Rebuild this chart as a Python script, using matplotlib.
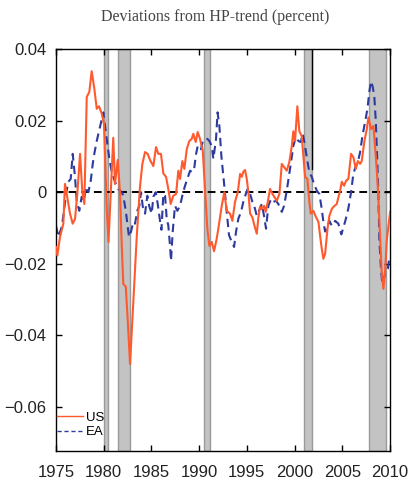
import matplotlib
matplotlib.use('Agg')
import matplotlib.pyplot as plt
from matplotlib.lines import Line2D

# US deviation from HP trend
us_years = [1975.0, 1975.14, 1975.42, 1975.77, 1975.94, 1976.47, 1976.75, 1976.99, 1977.23, 1977.52,
            1977.76, 1977.97, 1978.22, 1978.49, 1978.74, 1979.01, 1979.27, 1979.51, 1979.79, 1980.03,
            1980.31, 1980.5, 1981.0, 1981.18, 1981.47, 1981.71, 1981.89, 1982.05, 1982.31, 1982.52,
            1982.76, 1983.1, 1983.46, 1983.8, 1984.05, 1984.33, 1984.61, 1984.85, 1985.2, 1985.48,
            1985.72, 1986.0, 1986.25, 1986.53, 1986.77, 1987.02, 1987.29, 1987.58, 1987.82, 1988.0,
            1988.24, 1988.45, 1988.7, 1988.97, 1989.22, 1989.39, 1989.64, 1989.85, 1990.09, 1990.38,
            1990.62, 1990.86, 1991.07, 1991.32, 1991.56, 1991.84, 1992.01, 1992.37, 1992.64, 1992.89,
            1993.24, 1993.48, 1993.76, 1994.05, 1994.29, 1994.47, 1994.63, 1994.81, 1994.99, 1995.16,
            1995.34, 1995.58, 1995.79, 1996.04, 1996.21, 1996.38, 1996.56, 1996.8, 1996.98, 1997.19,
            1997.43, 1997.69, 1998.13, 1998.41, 1998.66, 1998.9, 1999.18, 1999.45, 1999.71, 1999.87,
            2000.05, 2000.29, 2000.5, 2000.75, 2000.92, 2001.1, 2001.34, 2001.55, 2001.7, 2001.97,
            2002.25, 2002.5, 2002.67, 2002.85, 2003.02, 2003.2, 2003.46, 2003.65, 2003.9, 2004.07,
            2004.42, 2004.77, 2004.95, 2005.19, 2005.4, 2005.64, 2005.92, 2006.16, 2006.42, 2006.63,
            2006.87, 2007.04, 2007.32, 2007.57, 2007.74, 2008.02, 2008.26, 2008.44, 2008.62, 2008.78,
            2008.96, 2009.14, 2009.31, 2009.49, 2009.66, 2009.83, 2010.01]
us_vals = [-0.0153, -0.0177, -0.0125, -0.0088, 0.0023, -0.006, -0.0088, -0.0075, -0.0005, 0.0107,
           0.0, -0.0033, 0.0266, 0.028, 0.0338, 0.029, 0.0233, 0.024, 0.022, 0.019,
           -0.004, -0.0139, 0.0152, 0.0023, 0.009, -0.0005, -0.015, -0.0256, -0.0264, -0.036,
           -0.048, -0.031, -0.0125, 0.0015, 0.0079, 0.0112, 0.0107, 0.009, 0.0073, 0.0126,
           0.0107, 0.0107, 0.0052, 0.0043, 0.0009, -0.0033, -0.001, -0.0005, 0.006, 0.0037,
           0.0087, 0.0065, 0.012, 0.0143, 0.0149, 0.0163, 0.014, 0.0168, 0.0149, 0.0115,
           0.0009, -0.0102, -0.015, -0.0139, -0.0165, -0.013, -0.0102, -0.0038, 0.0, -0.0052,
           -0.006, -0.008, -0.0027, 0.0, 0.0051, 0.0043, 0.0057, 0.0062, 0.0037, 0.0,
           -0.006, -0.007, -0.0093, -0.0116, -0.007, -0.004, -0.0047, -0.0038, -0.0055, -0.0027,
           0.0009, -0.0005, -0.0024, -0.0005, 0.0079, 0.007, 0.006, 0.0084, 0.0129, 0.017,
           0.0143, 0.024, 0.017, 0.0157, 0.0101, 0.0043, 0.0037, -0.0027, -0.006, -0.0052,
           -0.007, -0.0083, -0.0121, -0.0158, -0.0186, -0.0172, -0.01, -0.0066, -0.0047, -0.0041,
           -0.0033, 0.0004, 0.0029, 0.0018, 0.0032, 0.0037, 0.0107, 0.0098, 0.0065, 0.0087,
           0.0079, 0.0087, 0.0143, 0.0176, 0.0209, 0.0176, 0.0185, 0.0126, 0.006, -0.0013,
           -0.0125, -0.0228, -0.027, -0.022, -0.0136, -0.0097, -0.0055]

# Euro area deviation from HP trend
ea_years = [1975.0, 1975.24, 1975.6, 1975.84, 1976.05, 1976.29, 1976.54, 1976.75, 1976.99, 1977.17,
            1977.44, 1977.69, 1977.94, 1978.14, 1978.39, 1978.64, 1978.85, 1979.01, 1979.27, 1979.51,
            1979.79, 1979.96, 1980.31, 1980.59, 1980.84, 1981.18, 1981.53, 1981.89, 1982.05, 1982.31,
            1982.52, 1982.65, 1982.86, 1983.1, 1983.28, 1983.52, 1983.73, 1983.91, 1984.09, 1984.33,
            1984.57, 1984.78, 1985.03, 1985.2, 1985.45, 1985.66, 1985.9, 1986.05, 1986.25, 1986.43,
            1986.6, 1986.77, 1986.95, 1987.05, 1987.23, 1987.47, 1987.72, 1988.0, 1988.28, 1988.52,
            1988.76, 1989.05, 1989.29, 1989.5, 1989.68, 1989.85, 1990.02, 1990.2, 1990.38, 1990.62,
            1990.86, 1991.07, 1991.32, 1991.49, 1991.77, 1991.93, 1992.12, 1992.33, 1992.61, 1992.89,
            1993.13, 1993.42, 1993.66, 1993.87, 1994.11, 1994.39, 1994.63, 1994.89, 1995.09, 1995.34,
            1995.58, 1995.79, 1996.04, 1996.28, 1996.56, 1996.8, 1997.01, 1997.25, 1997.54, 1997.78,
            1998.06, 1998.3, 1998.66, 1998.9, 1999.18, 1999.42, 1999.63, 1999.87, 2000.13, 2000.4,
            2000.65, 2000.86, 2001.1, 2001.34, 2001.55, 2001.8, 2002.04, 2002.33, 2002.6, 2002.85,
            2003.02, 2003.2, 2003.44, 2003.65, 2003.9, 2004.25, 2004.59, 2004.9, 2005.32, 2005.64,
            2005.92, 2006.16, 2006.42, 2006.63, 2006.87, 2007.11, 2007.39, 2007.63, 2007.84, 2008.02,
            2008.2, 2008.36, 2008.51, 2008.68, 2008.78, 2008.89, 2009.07, 2009.2, 2009.41, 2009.59,
            2009.77, 2009.9]
ea_vals = [-0.0094, -0.0125, -0.0097, -0.0052, -0.0005, 0.0029, 0.0037, 0.0107, 0.0043, -0.0024,
           -0.0052, -0.0013, -0.0024, 0.0015, 0.0, 0.0032, 0.0079, 0.0107, 0.0143, 0.0171,
           0.0204, 0.0223, 0.0149, 0.0093, 0.0057, 0.0029, 0.0009, 0.0, -0.001, -0.0052,
           -0.0097, -0.0125, -0.011, -0.0083, -0.0088, -0.0052, -0.0038, 0.0, -0.004, -0.006,
           -0.001, -0.004, -0.006, -0.0013, 0.0, -0.0033, -0.008, -0.0105, -0.0005, -0.001,
           -0.0074, -0.0093, -0.015, -0.0192, -0.011, -0.0038, -0.0052, -0.0038, -0.0005, 0.0018,
           0.0037, 0.006, 0.0056, 0.007, 0.0107, 0.0129, 0.0129, 0.012, 0.0143, 0.0149,
           0.0149, 0.0143, 0.0129, 0.0093, 0.0149, 0.0223, 0.0185, 0.0101, 0.0025, -0.0055,
           -0.012, -0.0139, -0.0153, -0.011, -0.0074, -0.0055, -0.0027, -0.0005, 0.0009, -0.0005,
           -0.0027, -0.004, -0.0066, -0.0052, -0.0033, -0.0066, -0.0102, -0.0038, -0.0019, -0.0027,
           -0.0024, -0.0033, -0.0055, -0.0038, 0.0004, 0.0046, 0.0084, 0.0129, 0.0154, 0.0143,
           0.014, 0.0163, 0.0129, 0.0087, 0.0056, 0.0043, 0.0023, 0.0004, -0.0005, -0.0047,
           -0.0083, -0.011, -0.0097, -0.008, -0.0094, -0.008, -0.0088, -0.0118, -0.008, -0.0045,
           0.0, 0.0051, 0.0073, 0.0084, 0.0112, 0.0157, 0.0196, 0.0232, 0.0282, 0.031,
           0.0293, 0.0266, 0.02, 0.0079, -0.0005, -0.0136, -0.022, -0.0256, -0.0236, -0.022,
           -0.0214, -0.019]

# recession periods (shaded)
recessions = [(1980.0, 1980.5), (1981.5, 1982.8), (1990.5, 1991.1), (2001.0, 2001.85), (2007.8, 2009.6)]

x_ticks = [1975, 1980, 1985, 1990, 1995, 2000, 2005, 2010]
y_ticks = [-0.06, -0.04, -0.02, 0, 0.02, 0.04]
y_ticklabels = ['\u22120.06', '\u22120.04', '\u22120.02', '0', '0.02', '0.04']

tick_font = ['Liberation Sans', 'DejaVu Sans']

fig = plt.figure(figsize=(4.1, 4.87), dpi=100)
ax = fig.add_axes([0.1366, 0.0739, 0.8146, 0.8255])

for start, end in recessions:
    ax.axvspan(start, end, facecolor='#c3c3c3', edgecolor='#9a9a9a', lw=1.0, zorder=0)

# stray black line at the 2001 band edge
ax.plot([2001.85, 2001.85], [0.04, 0.0065], c='black', lw=1.0, zorder=1)

ax.axhline(0, c='black', ls=(0, (4, 2.5)), lw=1.4, zorder=1)

ax.plot(us_years, us_vals, c='#ff5a2e', lw=1.5, zorder=3)
ax.plot(ea_years, ea_vals, c='#2e3a9e', lw=1.5, ls=(0, (4, 2.5)), zorder=2)

ax.set_xlim(1975, 2010)
ax.set_ylim(-0.0723, 0.04)
ax.set_xticks(x_ticks)
ax.set_xticklabels([str(t) for t in x_ticks])
ax.set_yticks(y_ticks)
ax.set_yticklabels(y_ticklabels)
ax.tick_params(direction='in', length=4, width=1, top=True, right=True, labelsize=12)
ax.tick_params(axis='y', pad=7)
ax.tick_params(axis='x', pad=10)
for lab in ax.get_xticklabels() + ax.get_yticklabels():
    lab.set_family(tick_font)
    lab.set_color('#222222')
for sp in ax.spines.values():
    sp.set_linewidth(1.0)

handles = [Line2D([], [], c='#ff5a2e', lw=1.0), Line2D([], [], c='#2e3a9e', lw=1.0, ls=(0, (3, 2)))]
ax.legend(handles, ['US', 'EA'], loc='lower left', bbox_to_anchor=(-0.005, 0.025), frameon=False,
          handlelength=2.0, handletextpad=0.2, labelspacing=0.15, borderaxespad=0, borderpad=0.2,
          prop={'family': tick_font, 'size': 9.5})

fig.text(0.525, 0.965, 'Deviations from HP-trend (percent)', ha='center', va='center',
         family=['Liberation Serif', 'DejaVu Serif'], fontsize=11.5, color='#444444')

fig.savefig('out.png', dpi=100, facecolor='w')
